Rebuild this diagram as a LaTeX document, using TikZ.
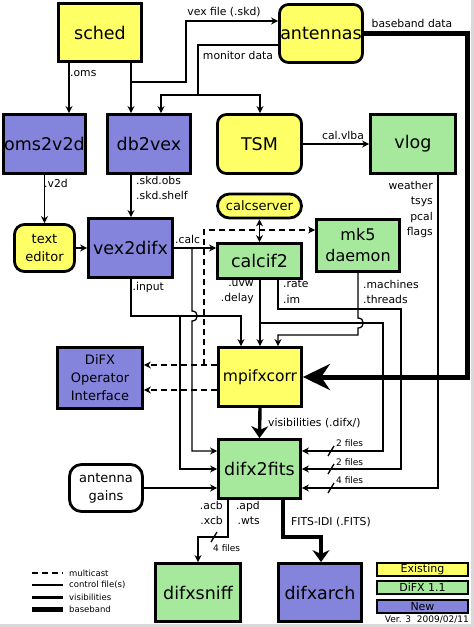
\documentclass[tikz,border=0pt]{standalone}
\usepackage{fontspec}
\setmainfont{DejaVu Sans}
\usetikzlibrary{arrows.meta}
\definecolor{ylw}{HTML}{FFFF66}
\definecolor{prp}{HTML}{8484DC}
\definecolor{grn}{HTML}{A6E99D}
\newcommand{\fbig}{\fontsize{17.5}{20}\selectfont}
\newcommand{\fmpi}{\fontsize{15.5}{18}\selectfont}
\newcommand{\fmkd}{\fontsize{16}{21}\selectfont}
\newcommand{\fmid}{\fontsize{13}{18}\selectfont}
\newcommand{\flab}{\fontsize{10.8}{15.5}\selectfont}
\newcommand{\fsml}{\fontsize{9}{11}\selectfont}
\newcommand{\fleg}{\fontsize{8.5}{10}\selectfont}
\begin{document}
\begin{tikzpicture}[x=1pt,y=-1pt,
  >={Stealth[length=7pt,width=7pt]},
  box/.style={draw, line width=2.8pt, inner sep=0pt, align=center, font=\fbig},
  yb/.style={box, fill=ylw},
  pb/.style={box, fill=prp},
  gb/.style={box, fill=grn},
  rb/.style={rounded corners=9pt},
  ctrl/.style={line width=1.3pt},
  vis/.style={line width=3.4pt, -{Stealth[length=12pt,width=17pt]}},
  base/.style={line width=5pt, -{Stealth[length=27pt,width=26pt]}},
  mcast/.style={line width=1.3pt, dash pattern=on 6pt off 4pt},
  lab/.style={font=\flab, inner sep=0pt},
  sml/.style={font=\fsml, inner sep=0pt},
  leg/.style={font=\fleg, inner sep=0pt, anchor=west},
  legbox/.style={draw, line width=2pt, minimum width=91pt, minimum height=13pt, inner sep=0pt, font=\fontsize{11}{12}\selectfont}
]
\useasboundingbox (0,0) rectangle (474,627);
\fill[white] (0,0) rectangle (474,627);
\fill[gray!30] (471,0) rectangle (474,627);
\fill[gray!30] (0,624) rectangle (474,627);

% nodes
\node[yb, minimum width=83pt, minimum height=58pt] (sched) at (100,32.5) {sched};
\node[yb, rb, minimum width=83pt, minimum height=58pt] (antennas) at (321,33.5) {antennas};
\node[pb, minimum width=82pt, minimum height=59pt] (oms2v2d) at (44.5,144) {oms2v2d};
\node[pb, minimum width=83pt, minimum height=59pt] (db2vex) at (149,144) {db2vex};
\node[yb, rb, minimum width=84pt, minimum height=59pt] (TSM) at (259.5,144) {TSM};
\node[gb, minimum width=85pt, minimum height=59pt] (vlog) at (413,144) {vlog};
\node[yb, rounded corners=10pt, font=\fmid, minimum width=60pt, minimum height=47pt] (texted) at (44.5,248) {text\\editor};
\node[pb, minimum width=84pt, minimum height=59pt] (vex2difx) at (130.5,248) {vex2difx};
\node[yb, rounded corners=12pt, font=\fmid, minimum width=84pt, minimum height=24pt] (calcserver) at (259.5,206) {calcserver};
\node[gb, minimum width=84pt, minimum height=35pt] (calcif2) at (259.5,261) {calcif2};
\node[gb, font=\fmkd, minimum width=83pt, minimum height=52pt] (mk5) at (358,245.5) {mk5\\daemon};
\node[pb, font=\fmid, minimum width=85pt, minimum height=61pt] (oi) at (100,378) {DiFX\\Operator\\Interface};
\node[yb, font=\fmpi, minimum width=83pt, minimum height=59pt] (mpifxcorr) at (260,377) {mpifxcorr};
\node[gb, minimum width=82pt, minimum height=59pt] (difx2fits) at (259.5,469) {difx2fits};
\node[box, rounded corners=12pt, fill=white, font=\fmid, minimum width=73pt, minimum height=47pt] (antgains) at (106,488) {antenna\\gains};
\node[gb, minimum width=85pt, minimum height=58pt] (difxsniff) at (198,592.5) {difxsniff};
\node[pb, minimum width=83pt, minimum height=58pt] (difxarch) at (320,592.5) {difxarch};

% legend boxes
\node[legbox, fill=ylw] (lexist) at (422.5,569.5) {Existing};
\node[legbox, fill=grn] (ldifx) at (422.5,587.5) {DiFX 1.1};
\node[legbox, fill=prp] (lnew) at (422.5,606.5) {New};
\node[sml, anchor=east] (ver) at (469,620) {Ver. 3\ \ 2009/02/11};

% sched outputs
\draw[ctrl,->] (69,0 |- sched.south) -- (69,0 |- oms2v2d.north);
\node[lab, anchor=west] (loms) at (70,74) {.oms};
\draw[ctrl,->] (131,0 |- sched.south) -- (131,0 |- db2vex.north);
\draw[ctrl,->] (131,82) -- (186,82) -- (186,21) -- (antennas.west |- 0,21);
\node[lab] (lvex) at (224,12) {vex file (.skd)};

% monitor data
\draw[ctrl,->] (antennas.west |- 0,45) -- (198,45) -- (198,95) -- (161,95) -- (161,0 |- db2vex.north);
\draw[ctrl,->] (198,95) -- (260,95) -- (260,0 |- TSM.north);
\node[lab] (lmon) at (238,55) {monitor data};

% TSM -> vlog
\draw[ctrl,->] (TSM.east) -- (vlog.west);
\node[lab] (lcal) at (343,135) {cal.vlba};

% baseband
\draw[base] (antennas.east |- 0,33) -- (467,33) -- (467,377) -- (mpifxcorr.east |- 0,377);
\node[lab] (lbase) at (412,23) {baseband data};

% vlog -> difx2fits
\draw[ctrl,->] (438,0 |- vlog.south) -- (438,488) -- (difx2fits.east |- 0,488);
\node[lab, anchor=north east, align=right] (lwx) at (433,181) {weather\\tsys\\pcal\\flags};

% oms2v2d -> text editor
\draw[ctrl,->] (oms2v2d.south) -- (texted.north);
\node[lab, anchor=west] (lv2d) at (44,183) {.v2d};

% db2vex -> vex2difx
\draw[ctrl,->] (131,0 |- db2vex.south) -- (131,0 |- vex2difx.north);
\node[lab, anchor=north west, align=left] (lskd) at (136,176) {.skd.obs\\.skd.shelf};

% text editor -> vex2difx
\draw[ctrl,->] (texted.east) -- (vex2difx.west);

% vex2difx -> calcif2
\draw[ctrl,->] (vex2difx.east) -- (calcif2.west |- vex2difx.east);
\node[lab, anchor=west] (lcalc) at (175,239) {.calc};
\draw[ctrl,->] (192,248) -- (192,311) .. controls (199,311) and (199,321) .. (192,321) -- (192,451) -- (difx2fits.west |- 0,451);

% .input
\draw[ctrl,->] (131,0 |- vex2difx.south) -- (131,316) -- (241,316) -- (241,0 |- mpifxcorr.north);
\draw[ctrl,->] (180,316) -- (180,469) -- (difx2fits.west |- 0,469);
\node[lab, anchor=west] (linput) at (132.5,288) {.input};

% calcserver <-> calcif2
\draw[ctrl,<->] (calcserver.south) -- (calcif2.north);

% multicast
\draw[mcast,->] (mpifxcorr.west |- 0,365) -- (oi.east |- 0,365);
\draw[mcast,->] (204,365) -- (204,230) -- (mk5.west |- 0,230);
\draw[mcast,->] (mpifxcorr.west |- 0,390) -- (oi.east |- 0,390);

% calcif2 outputs
\draw[ctrl,->] (260,0 |- calcif2.south) -- (260,0 |- mpifxcorr.north);
\draw[ctrl,->] (260,323) -- (383,323) -- (383,451) -- (difx2fits.east |- 0,451);
\node[lab, anchor=north east, align=right] (luvw) at (254,280) {.uvw\\.delay};
\draw[ctrl,->] (278,0 |- calcif2.south) -- (278,309) -- (401,309) -- (401,469) -- (difx2fits.east |- 0,469);
\node[lab, anchor=north west, align=left] (lrate) at (283,280) {.rate\\.im};

% mk5 outputs
\draw[ctrl,->] (358,0 |- mk5.south) -- (358,318) .. controls (365,318) and (365,328) .. (358,328) -- (358,335) -- (278,335) -- (278,0 |- mpifxcorr.north);
\node[lab, anchor=north west, align=left] (lmach) at (363,280) {.machines\\.threads};

% visibilities
\draw[vis] (mpifxcorr.south) -- (difx2fits.north);
\node[lab, anchor=west] (lvis) at (268,423) {visibilities (.difx/)};

% file counts
\draw[ctrl] (328,456) -- (334,446);
\node[sml, anchor=west] (f1) at (336,443) {2 files};
\draw[ctrl] (328,474) -- (334,464);
\node[sml, anchor=west] (f2) at (336,462) {2 files};
\draw[ctrl] (328,493) -- (334,483);
\node[sml, anchor=west] (f3) at (336,480) {4 files};

% antenna gains
\draw[ctrl,->] (antgains.east) -- (difx2fits.west |- antgains.east);

% difx2fits -> difxsniff
\draw[ctrl,->] (228,0 |- difx2fits.south) -- (228,537) -- (198,537) -- (difxsniff.north);
\draw[ctrl] (211,542) -- (217,532);
\node[sml, anchor=west] (f4) at (213,548) {4 files};
\node[lab, anchor=north east, align=right] (lacb) at (223,501) {.acb\\.xcb};
\node[lab, anchor=north east, align=right] (lapd) at (260,501) {.apd\\.wts};

% difx2fits -> difxarch
\draw[vis] (283,0 |- difx2fits.south) -- (283,537) -- (321,537) -- (321,0 |- difxarch.north);
\node[lab, anchor=west] (lfits) at (291,522) {FITS-IDI (.FITS)};

% legend lines
\draw[mcast] (32,573) -- (63,573);
\node[leg] (lg1) at (69,573) {multicast};
\draw[line width=1.3pt] (32,585) -- (63,585);
\node[leg] (lg2) at (69,585) {control file(s)};
\draw[line width=3pt] (32,597) -- (63,597);
\node[leg] (lg3) at (69,597) {visibilities};
\draw[line width=5pt] (32,609) -- (63,609);
\node[leg] (lg4) at (69,609) {baseband};
\end{tikzpicture}
\end{document}
